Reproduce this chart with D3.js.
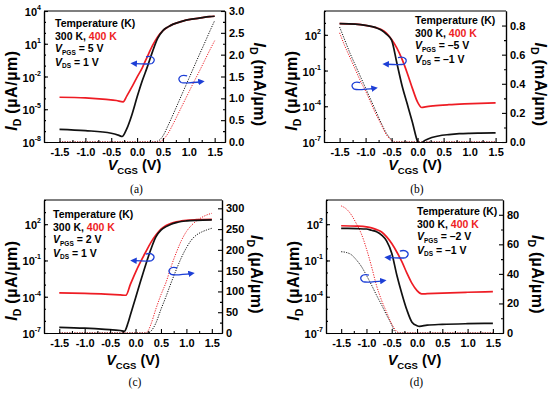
<!DOCTYPE html>
<html><head><meta charset="utf-8">
<script src="https://cdn.jsdelivr.net/npm/d3@7"></script>
<style>
body{margin:0;background:#fff}
svg{display:block}
</style>
</head><body>
<svg id="chart" width="550" height="395" font-family="Liberation Sans, Arial, sans-serif" font-weight="bold"></svg>
<script>
// ---------------- data ----------------
const xDomain = [-1.8, 1.7];
const xTicks = [-1.5, -1.0, -0.5, 0.0, 0.5, 1.0, 1.5];
const xMinor = [-1.25, -0.75, -0.25, 0.25, 0.75, 1.25];

// panel (a)
const aLogTicks = [1e-8, 1e-5, 1e-2, 1e1, 1e4];
const aLinTicks = [0, 0.5, 1.0, 1.5, 2.0, 2.5, 3.0];
const a300Log = [[-1.5,1.45e-7],[-1.0,1.1e-7],[-0.5,6.3e-8],[-0.35,4e-8],[-0.29,3.2e-8],[-0.2,1.6e-7],[-0.1,3.2e-6],[0.0,1.3e-4],[0.1,4e-3],[0.2,8e-2],[0.3,2],[0.4,32],[0.5,160],[0.6,350],[0.7,630],[0.8,900],[0.9,1250],[1.0,1600],[1.2,2200],[1.4,3000],[1.5,3300]];
const a400Log = [[-1.5,1.26e-4],[-1.0,1.1e-4],[-0.6,8e-5],[-0.4,6.3e-5],[-0.27,4.8e-5],[-0.2,1.6e-4],[-0.1,1.1e-3],[0.0,8.9e-3],[0.1,6.3e-2],[0.2,0.7],[0.3,7],[0.4,45],[0.5,160],[0.6,350],[0.7,630],[0.8,900],[0.9,1250],[1.0,1600],[1.2,2200],[1.4,3000],[1.5,3300]];
const a300Lin = [[-1.5,0],[0.3,0],[0.4,0.02],[0.5,0.14],[0.6,0.38],[0.7,0.64],[0.8,0.91],[0.9,1.18],[1.0,1.45],[1.1,1.72],[1.2,1.99],[1.3,2.25],[1.4,2.52],[1.5,2.78]];
const a400Lin = [[-1.5,0],[0.4,0],[0.5,0.05],[0.6,0.2],[0.7,0.42],[0.8,0.66],[0.9,0.9],[1.0,1.14],[1.1,1.38],[1.2,1.61],[1.3,1.85],[1.4,2.09],[1.5,2.32]];

// panel (b)
const bLogTicks = [1e-7, 1e-4, 1e-1, 1e2];
const bLinTicks = [0, 0.2, 0.4, 0.6, 0.8];
const b300Log = [[-1.5,870],[-1.2,790],[-1.0,630],[-0.8,400],[-0.7,250],[-0.6,112],[-0.5,36],[-0.4,0.45],[-0.3,5.6e-3],[-0.2,1.6e-4],[-0.1,4.5e-6],[0.0,1.1e-7],[0.05,5.6e-8],[0.1,1e-7],[0.2,1.8e-7],[0.4,3.2e-7],[0.6,4.2e-7],[0.8,5e-7],[1.0,5.4e-7],[1.2,5.6e-7],[1.5,5.8e-7]];
const b400Log = [[-1.5,870],[-1.2,790],[-1.0,630],[-0.8,400],[-0.7,280],[-0.6,140],[-0.5,40],[-0.4,8],[-0.3,0.9],[-0.2,6.3e-2],[-0.1,3.2e-3],[0.0,2.2e-4],[0.08,7.9e-5],[0.15,8.9e-5],[0.3,1.07e-4],[0.6,1.35e-4],[0.9,1.58e-4],[1.2,1.78e-4],[1.5,1.9e-4]];
const b300Lin = [[-1.5,0.79],[-1.4,0.70],[-1.3,0.61],[-1.2,0.53],[-1.1,0.45],[-1.0,0.37],[-0.9,0.29],[-0.8,0.21],[-0.7,0.13],[-0.6,0.06],[-0.5,0.015],[-0.45,0],[1.5,0]];
const b400Lin = [[-1.5,0.75],[-1.4,0.66],[-1.3,0.58],[-1.2,0.50],[-1.1,0.42],[-1.0,0.35],[-0.9,0.27],[-0.8,0.19],[-0.7,0.12],[-0.6,0.05],[-0.5,0.01],[-0.45,0],[1.5,0]];

// panel (c)
const cLogTicks = [1e-7, 1e-4, 1e-1, 1e2];
const cLinTicks = [0, 50, 100, 150, 200, 250, 300];
const c300Log = [[-1.5,2.95e-7],[-1.0,2.5e-7],[-0.6,2e-7],[-0.3,1.6e-7],[-0.22,1.4e-7],[-0.15,6.3e-7],[-0.1,3.2e-6],[0.0,7.9e-5],[0.1,2e-3],[0.2,4.5e-2],[0.3,0.8],[0.4,9],[0.5,32],[0.6,63],[0.7,100],[0.8,135],[0.9,166],[1.0,186],[1.2,209],[1.5,224]];
const c400Log = [[-1.5,2.1e-4],[-1.0,1.9e-4],[-0.6,1.66e-4],[-0.3,1.41e-4],[-0.19,1.32e-4],[-0.1,1.1e-3],[0.0,1.05e-2],[0.1,7.9e-2],[0.2,0.5],[0.3,3],[0.4,12.6],[0.5,40],[0.6,79],[0.7,120],[0.8,158],[0.9,186],[1.0,209],[1.2,234],[1.5,251]];
const c300Lin = [[-1.5,0],[0.25,0],[0.3,4],[0.4,24],[0.5,57],[0.6,88],[0.7,121],[0.8,152],[0.9,181],[1.0,205],[1.1,224],[1.2,236],[1.3,243],[1.4,248],[1.5,252]];
const c400Lin = [[-1.5,0],[0.18,0],[0.25,6],[0.3,20],[0.4,58],[0.5,92],[0.6,122],[0.7,160],[0.8,193],[0.9,222],[1.0,244],[1.1,259],[1.2,270],[1.3,278],[1.4,284],[1.5,288]];

// panel (d)
const dLogTicks = [1e-7, 1e-4, 1e-1, 1e2];
const dLinTicks = [0, 20, 40, 60, 80];
const d300Log = [[-1.5,45.7],[-1.2,42.7],[-1.0,39.8],[-0.9,31.6],[-0.8,24],[-0.7,12.6],[-0.6,4],[-0.5,0.4],[-0.4,6.3e-3],[-0.3,1.8e-4],[-0.2,7.9e-6],[-0.1,7.9e-7],[0.0,4e-7],[0.05,3.55e-7],[0.2,4.5e-7],[0.5,5.2e-7],[1.0,5.9e-7],[1.5,6.3e-7]];
const d400Log = [[-1.5,74],[-1.2,69],[-1.0,60],[-0.9,50],[-0.8,35.5],[-0.7,22.4],[-0.6,8.9],[-0.5,2.5],[-0.4,0.5],[-0.3,7.9e-2],[-0.2,8.9e-3],[-0.1,1.26e-3],[0.0,3.2e-4],[0.09,1.7e-4],[0.2,1.78e-4],[0.5,2e-4],[1.0,2.34e-4],[1.5,2.63e-4]];
const d300Lin = [[-1.5,55],[-1.4,54.5],[-1.3,53],[-1.2,49.5],[-1.1,45],[-1.0,39],[-0.9,32.5],[-0.8,25.5],[-0.7,19],[-0.6,12],[-0.5,5.5],[-0.45,1.5],[-0.4,0],[1.5,0]];
const d400Lin = [[-1.5,86],[-1.4,84],[-1.3,80],[-1.2,74],[-1.1,67],[-1.0,57],[-0.9,45],[-0.8,32],[-0.7,22],[-0.6,14],[-0.5,6],[-0.4,1],[-0.35,0],[1.5,0]];

// ---------------- layout ----------------
const RED = "#ee1c24", BLUE = "#1d3fd6";
const panels = [
  {cap:"(a)", x0:44, x1:225, y0:11, y1:142, logDomain:[1e-8,1e4], logTicks:aLogTicks,
   linDomain:[0,3], linTicks:aLinTicks, linFmt:d=>d.toFixed(1), rUnit:"(mA/\u00b5m)",
   log300:a300Log, log400:a400Log, lin300:a300Lin, lin400:a400Lin,
   vpgs:"5 V", vds:"1 V", legX:55, legY:27,
   arrL:[0.25, -0.58], arrR:[0.89, 1.42], capY:193, xlabY:170},
  {cap:"(b)", x0:324, x1:506, y0:11, y1:142, logDomain:[1e-7,1e4], logTicks:bLogTicks,
   linDomain:[0,0.9], linTicks:bLinTicks, linFmt:d=>d.toFixed(1), rUnit:"(mA/\u00b5m)",
   log300:b300Log, log400:b400Log, lin300:b300Lin, lin400:b400Lin,
   vpgs:"\u20135 V", vds:"\u20131 V", legX:415, legY:24,
   arrL:[-0.3, -0.25], arrR:[-1.18, 0.38], capY:193, xlabY:170},
  {cap:"(c)", x0:44, x1:222, y0:200, y1:333, logDomain:[1e-7,1e4], logTicks:cLogTicks,
   linDomain:[0,320], linTicks:cLinTicks, linFmt:d=>String(d), rUnit:"(\u00b5A/\u00b5m)",
   log300:c300Log, log400:c400Log, lin300:c300Lin, lin400:c400Lin,
   vpgs:"2 V", vds:"1 V", legX:53, legY:218,
   arrL:[0.28, -0.8], arrR:[0.74, 147], capY:386, xlabY:365},
  {cap:"(d)", x0:326, x1:503, y0:200, y1:333, logDomain:[1e-7,1e4], logTicks:dLogTicks,
   linDomain:[0,90], linTicks:dLinTicks, linFmt:d=>String(d), rUnit:"(\u00b5A/\u00b5m)",
   log300:d300Log, log400:d400Log, lin300:d300Lin, lin400:d400Lin,
   vpgs:"\u20132 V", vds:"\u20131 V", legX:417, legY:215,
   arrL:[-0.26, -0.55], arrR:[-1.03, 36.5], capY:386, xlabY:365}
];

const svg = d3.select("#chart");
const defs = svg.append("defs");
defs.append("marker").attr("id","ah").attr("viewBox","0 0 10 10").attr("refX",6).attr("refY",5)
  .attr("markerWidth",5).attr("markerHeight",5).attr("orient","auto")
  .append("path").attr("d","M0,0 L10,5 L0,10 z").attr("fill",BLUE);

function decadesBetween(dom){
  const lo = Math.round(Math.log10(dom[0])), hi = Math.round(Math.log10(dom[1]));
  const out=[]; for(let e=lo;e<=hi;e++) out.push(Math.pow(10,e)); return out;
}

panels.forEach((p,i)=>{
  const g = svg.append("g");
  const x = d3.scaleLinear().domain(xDomain).range([p.x0,p.x1]);
  const yL = d3.scaleLog().domain(p.logDomain).range([p.y1,p.y0]);
  const yR = d3.scaleLinear().domain(p.linDomain).range([p.y1,p.y0]);

  const clipId = "clip"+i;
  defs.append("clipPath").attr("id",clipId).append("rect")
    .attr("x",p.x0).attr("y",p.y0).attr("width",p.x1-p.x0).attr("height",p.y1-p.y0);
  const plot = g.append("g").attr("clip-path",`url(#${clipId})`);

  const lineLog = d3.line().x(d=>x(d[0])).y(d=>yL(d[1])).curve(d3.curveMonotoneX);
  const lineLin = d3.line().x(d=>x(d[0])).y(d=>yR(d[1])).curve(d3.curveMonotoneX);

  plot.append("path").attr("d",lineLin(p.lin300)).attr("fill","none").attr("stroke","#111")
    .attr("stroke-width",1).attr("stroke-dasharray","1.2,1.3");
  plot.append("path").attr("d",lineLin(p.lin400)).attr("fill","none").attr("stroke",RED)
    .attr("stroke-width",1).attr("stroke-dasharray","1.2,1.3");
  plot.append("path").attr("d",lineLog(p.log400)).attr("fill","none").attr("stroke",RED)
    .attr("stroke-width",1.7);
  plot.append("path").attr("d",lineLog(p.log300)).attr("fill","none").attr("stroke","#111")
    .attr("stroke-width",1.7);

  const axStyle = sel => { sel.selectAll("path,line").attr("stroke","#000").attr("stroke-width",1.1); sel.select(".domain").attr("stroke-width",1.2); };
  const txtStyle = sel => sel.selectAll("text").attr("font-size",11).attr("font-family","Liberation Sans, Arial, sans-serif").attr("font-weight","bold").attr("fill","#000");

  const bx = g.append("g").attr("transform",`translate(0,${p.y1})`)
    .call(d3.axisBottom(x).tickValues(xTicks).tickSize(-4).tickSizeOuter(0).tickPadding(6).tickFormat(d=>d.toFixed(1)));
  txtStyle(bx); axStyle(bx);
  const bxm = g.append("g").attr("transform",`translate(0,${p.y1})`)
    .call(d3.axisBottom(x).tickValues(xMinor).tickSize(-2).tickSizeOuter(0).tickFormat(""));
  axStyle(bxm);

  const lx = g.append("g").attr("transform",`translate(${p.x0},0)`)
    .call(d3.axisLeft(yL).tickValues(p.logTicks).tickSize(-4).tickSizeOuter(0).tickFormat(""));
  axStyle(lx);
  const lxm = g.append("g").attr("transform",`translate(${p.x0},0)`)
    .call(d3.axisLeft(yL).tickValues(decadesBetween(p.logDomain)).tickSize(-2).tickSizeOuter(0).tickFormat(""));
  axStyle(lxm);
  p.logTicks.forEach(v=>{
    const e = Math.round(Math.log10(v));
    const t = g.append("text").attr("x",p.x0-3).attr("y",yL(v)+5).attr("text-anchor","end").attr("font-size",11);
    t.append("tspan").text("10");
    t.append("tspan").attr("font-size",7).attr("dy",-6).text(String(e));
  });

  const rx = g.append("g").attr("transform",`translate(${p.x1},0)`)
    .call(d3.axisRight(yR).tickValues(p.linTicks).tickSize(-4).tickSizeOuter(0).tickPadding(4).tickFormat(p.linFmt));
  txtStyle(rx); axStyle(rx);
  const step = p.linTicks[1]-p.linTicks[0];
  const rMinor = p.linTicks.map(v=>v+step/2).filter(v=>v<p.linDomain[1]);
  const rxm = g.append("g").attr("transform",`translate(${p.x1},0)`)
    .call(d3.axisRight(yR).tickValues(rMinor).tickSize(-2).tickSizeOuter(0).tickFormat(""));
  axStyle(rxm);
  g.append("line").attr("x1",p.x0).attr("x2",p.x1).attr("y1",p.y0).attr("y2",p.y0).attr("stroke","#000").attr("stroke-width",1.2);

  // axis titles
  const midY = (p.y0+p.y1)/2;
  const lt = g.append("text").attr("transform",`translate(${p.x0-27},${midY+14}) rotate(-90)`)
    .attr("text-anchor","middle").attr("font-size",16);
  lt.append("tspan").attr("font-style","italic").text("I");
  lt.append("tspan").attr("font-size",10.5).attr("dy",4).text("D");
  lt.append("tspan").attr("dy",-4).attr("letter-spacing",0.6).text(" (\u00b5A/\u00b5m)");

  const rt = g.append("text").attr("transform",`translate(${p.x1+29},${midY+8}) rotate(90)`)
    .attr("text-anchor","middle").attr("font-size",16);
  rt.append("tspan").attr("font-style","italic").text("I");
  rt.append("tspan").attr("font-size",10.5).attr("dy",4).text("D");
  rt.append("tspan").attr("dy",-4).attr("letter-spacing",0.4).text(" "+p.rUnit);

  const xt = g.append("text").attr("x",(p.x0+p.x1)/2).attr("y",p.xlabY).attr("text-anchor","middle").attr("font-size",14.5);
  xt.append("tspan").attr("font-style","italic").text("V");
  xt.append("tspan").attr("font-size",9.5).attr("dy",4).text("CGS");
  xt.append("tspan").attr("dy",-4).text(" (V)");

  // caption
  g.append("text").attr("x",(p.x0+p.x1)/2+2).attr("y",p.capY).attr("text-anchor","middle")
    .attr("font-family","Liberation Serif, Times New Roman, serif").attr("font-weight","normal").attr("font-size",11.5).text(p.cap);

  // legend text
  const fs = 10.5, lh = 12.6;
  g.append("text").attr("x",p.legX).attr("y",p.legY).attr("font-size",fs).text("Temperature (K)");
  const l2 = g.append("text").attr("x",p.legX).attr("y",p.legY+lh).attr("font-size",fs);
  l2.append("tspan").text("300 K, ");
  l2.append("tspan").attr("fill",RED).text("400 K");
  const l3 = g.append("text").attr("x",p.legX).attr("y",p.legY+2*lh).attr("font-size",fs);
  l3.append("tspan").attr("font-style","italic").text("V");
  l3.append("tspan").attr("font-size",6.5).attr("dy",2.5).text("PGS");
  l3.append("tspan").attr("dy",-2.5).text(" = "+p.vpgs);
  const l4 = g.append("text").attr("x",p.legX).attr("y",p.legY+3*lh+1).attr("font-size",fs);
  l4.append("tspan").attr("font-style","italic").text("V");
  l4.append("tspan").attr("font-size",6.5).attr("dy",2.5).text("DS");
  l4.append("tspan").attr("dy",-2.5).text(" = "+p.vds);

  // blue rotation arrows (annotation), anchored in data coords
  const ax1 = x(p.arrL[0]), ay1 = yL(Math.pow(10,p.arrL[1]));
  g.append("path").attr("d",`M${ax1-4},${ay1-4} C${ax1+3},${ay1-6} ${ax1+7},${ay1-1} ${ax1+2},${ay1+2.5} C${ax1-1},${ay1+3.5} ${ax1-8},${ay1+3} ${ax1-17},${ay1+2.5}`)
    .attr("fill","none").attr("stroke",BLUE).attr("stroke-width",1.3).attr("marker-end","url(#ah)");
  const ax2 = x(p.arrR[0]), ay2 = yR(p.arrR[1]);
  g.append("path").attr("d",`M${ax2+4},${ay2-4} C${ax2-3},${ay2-6} ${ax2-7},${ay2-1} ${ax2-2},${ay2+2.5} C${ax2+1},${ay2+3.5} ${ax2+8},${ay2+3} ${ax2+19},${ay2+1.5}`)
    .attr("fill","none").attr("stroke",BLUE).attr("stroke-width",1.3).attr("marker-end","url(#ah)");
});
</script>
</body></html>
